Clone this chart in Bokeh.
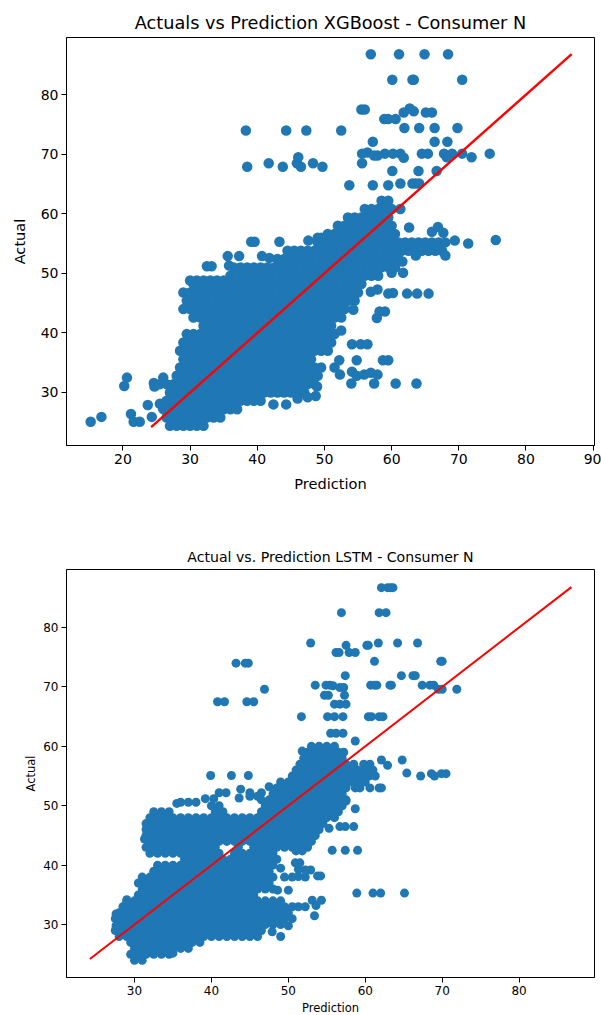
from bokeh.plotting import figure
from bokeh.layouts import column
from bokeh.models import Range1d, FixedTicker
from bokeh.embed import file_html
from bokeh.resources import INLINE

FONT = "DejaVu Sans"
BLUE = "#1f77b4"

line_ends = [24.2, 86.8]
xgb_xticks = [20, 30, 40, 50, 60, 70, 80, 90]
lstm_xticks = [30, 40, 50, 60, 70, 80]
yticks = [30, 40, 50, 60, 70, 80]

# XGBoost: predictions read along horizontal levels of the actual value
xgb_levels = [24.4, 25.8, 27.2, 28.6, 30.0, 31.4, 32.8, 34.2, 35.6, 37.0, 38.4, 39.8, 41.2, 42.6,
              44.0, 45.4, 46.8, 48.2, 49.6, 51.0, 52.4, 53.8, 55.2, 56.6, 58.0, 59.4, 60.8, 62.2]
xgb_rows = [
    [27,28,29,30,31,32],
    [26.5,27.5,28.5,29.5,30.5,31.5,32.5,33.5,34.5],
    [26,27,28,29,30,31,32,33,34,35,36,37],
    [26.5,27.5,28.5,29.5,30.5,31.5,32.5,33.5,34.5,35.5,36.5,37.5,38.5,39.5,40.5],
    [27,28,29,30,31,32,33,34,35,36,37,38,39,40,41,42,43,44,45,46,47],
    [25.5,26.5,27.5,28.5,29.5,30.5,31.5,32.5,33.5,34.5,35.5,36.5,37.5,38.5,39.5,40.5,41.5,42.5,43.5,44.5,45.5,46.5,47.5,48.5],
    [28,29,30,31,32,33,34,35,36,37,38,39,40,41,42,43,44,45,46,47,48,49],
    [28.5,29.5,30.5,31.5,32.5,33.5,34.5,35.5,36.5,37.5,38.5,39.5,40.5,41.5,42.5,43.5,44.5,45.5,46.5,47.5,48.5,49.5],
    [29,30,31,32,33,34,35,36,37,38,39,40,41,42,43,44,45,46,47,48],
    [28.5,29.5,30.5,31.5,32.5,33.5,34.5,35.5,36.5,37.5,38.5,39.5,40.5,41.5,42.5,43.5,44.5,45.5,46.5,47.5,48.5,49.5,50.5],
    [29,30,31,32,33,34,35,36,37,38,39,40,41,42,43,44,45,46,47,48,49,50,51],
    [29.5,30.5,31.5,32.5,33.5,34.5,35.5,36.5,37.5,38.5,39.5,40.5,41.5,42.5,43.5,44.5,45.5,46.5,47.5,48.5,49.5,50.5,51.5],
    [32,33,34,35,36,37,38,39,40,41,42,43,44,45,46,47,48,49,50,51],
    [30.5,31.5,32.5,33.5,34.5,35.5,36.5,37.5,38.5,39.5,40.5,41.5,42.5,43.5,44.5,45.5,46.5,47.5,48.5,49.5,50.5,51.5,52.5],
    [29,30,31,32,33,34,35,36,37,38,39,40,41,42,43,44,45,46,47,48,49,50,51,52,53],
    [29.5,30.5,31.5,32.5,33.5,34.5,35.5,36.5,37.5,38.5,39.5,40.5,41.5,42.5,43.5,44.5,45.5,46.5,47.5,48.5,49.5,50.5,51.5,52.5,53.5,54.5],
    [29,30,31,32,33,34,35,36,37,38,39,40,41,42,43,44,45,46,47,48,49,50,51,52,53,54,55],
    [30.5,31.5,32.5,33.5,34.5,35.5,36.5,37.5,38.5,39.5,40.5,41.5,42.5,43.5,44.5,45.5,46.5,47.5,48.5,49.5,50.5,51.5,52.5,53.5,54.5,55.5],
    [36,37,38,39,40,41,42,43,44,45,46,47,48,49,50,51,52,53,54,55,56,57,58],
    [36.5,37.5,38.5,39.5,40.5,41.5,42.5,43.5,44.5,45.5,46.5,47.5,48.5,49.5,50.5,51.5,52.5,53.5,54.5,55.5,56.5,57.5,58.5,59.5,60.5],
    [43,44,45,46,47,48,49,50,51,52,53,54,55,56,57,58,59,60,61],
    [44.5,45.5,46.5,47.5,48.5,49.5,50.5,51.5,52.5,53.5,54.5,55.5,56.5,57.5,58.5,59.5,60.5,61.5,62.5,63.5,64.5,65.5,66.5,67.5],
    [49,50,51,52,53,54,55,56,57,58,59,60,61,62,63,64,65,66,67,68],
    [50.5,51.5,52.5,53.5,54.5,55.5,56.5,57.5,58.5,59.5,60.5],
    [52,53,54,55,56,57,58,59,60],
    [53.5,54.5,55.5,56.5,57.5,58.5,59.5],
    [56,57,58,59,60],
    [58.5,59.5],
]
# XGBoost: the separate points around the main cloud
xgb_extra_pred = [
    56.9,61.1,64.9,68.4, 60.1,63.1,63.3,70.5, 55.5,56.0, 61.8,65.1,66.0,62.7,63.3, 58.9,59.5,60.6,
    61.9,64.1,66.4,69.8, 38.3,44.3,47.3,52.5, 57.2,66.4,68.3,
    55.6,56.4,57.4,57.9,59.0,60.2,61.3,64.5,65.4,67.8,69.0,70.5,74.6,61.8,68.2,71.9,
    55.6,41.7,48.3,45.9,46.1, 38.5,43.8,46.5,49.7, 60.1,64.0,66.7, 61.3,63.1,63.6,64.1, 53.7,57.2,59.5,
    61.3,62.6,66.9,66.0,67.7, 39.1,39.6,43.3,47.6,49.0,49.5,69.4,71.4,75.5,
    56.9,57.9,59.5,60.2,62.3,63.8,65.5, 57.8,58.2,59.0, 60.0,61.7, 61.6,63.6,68.0,
    54.3,52.5, 54.1,55.4,56.4, 52.2,54.8,51.5,52.3,54.1,54.0,57.4,60.6,63.7,54.8,55.9,56.9,57.9,58.7,59.5,
    15.2,16.8,20.6,20.2,21.2,21.6,22.5,23.7,24.3,25.5, 24.6,24.7,26.0,
    42.4,44.3,46.0,47.5,48.7,48.9, 30.0,31.0,32.0,33.0,34.0,35.0,
    35.6,37.3,40.7,35.8,32.5,33.2,41.8,
]
xgb_extra_actual = [
    86.8,86.8,86.8,86.8, 82.5,82.5,82.5,82.5, 77.5,77.5, 77.0,77.0,77.0,77.7,77.2, 75.9,75.9,75.9,
    74.4,74.4,74.4,74.4, 74.0,74.0,74.0,74.0, 72.1,72.1,72.1,
    70.1,70.3,69.8,69.8,70.1,70.1,70.1,70.1,70.1,70.1,70.1,70.1,70.1,69.4,69.5,69.5,
    68.5,68.5,68.5,68.5,69.5, 67.9,67.9,67.9,67.9, 67.2,67.2,67.2, 65.1,65.1,65.1,65.1, 64.8,64.8,64.8,
    60.8,57.7,57.8,57.0,56.8, 55.3,55.3,55.3,55.5,56.0,56.0,55.5,55.0,55.6,
    46.9,47.3,46.6,46.7,46.6,46.6,46.6, 42.5,43.6,43.6, 50.1,50.1, 52.0,53.0,53.0,
    43.9,40.4, 38.1,38.1,38.1, 35.4,35.4,34.2,33.0,33.5,31.5,31.5,31.5,31.5,32.8,33.0,33.3,33.0,35.4,35.4,
    25.1,25.9,32.5,31.1,26.4,25.1,25.1,27.9,25.9,28.1, 31.6,31.0,32.5,
    28.0,28.0,29.0,29.2,29.4,31.0, 48.8,48.8,48.8,48.8,48.8,48.8,
    52.9,52.9,52.9,51.3,51.2,51.2,52.6,
]

# LSTM: predictions read along horizontal levels of the actual value
lstm_levels = [24,25,26,27,28,29,30,31,32,33,34,35,36,37,38,39,40,41,42,43,44,45,46,47,48,49,50,51,52,53,54,55,56,57,58,59,60]
lstm_rows = [
    [30,31],
    [29.5,30.5,31.5,32.5,33.5,34.5],
    [30,31,32,33,34,35,36,37],
    [29.5,30.5,31.5,32.5,33.5,34.5,35.5,36.5,37.5,38.5],
    [28,29,30,31,32,33,34,35,36,37,38,39,40,41,42,43,44,45,46],
    [27.5,28.5,29.5,30.5,31.5,32.5,33.5,34.5,35.5,36.5,37.5,38.5,39.5,40.5,41.5,42.5,43.5,44.5,45.5,46.5],
    [28,29,30,31,32,33,34,35,36,37,38,39,40,41,42,43,44,45,46,47,48,49],
    [27.5,28.5,29.5,30.5,31.5,32.5,33.5,34.5,35.5,36.5,37.5,38.5,39.5,40.5,41.5,42.5,43.5,44.5,45.5,46.5,47.5,48.5,49.5,50.5],
    [28,29,30,31,32,33,34,35,36,37,38,39,40,41,42,43,44,45,46,47,48,49,50],
    [28.5,29.5,30.5,31.5,32.5,33.5,34.5,35.5,36.5,37.5,38.5,39.5,40.5,41.5,42.5,43.5,44.5,45.5,46.5,47.5,48.5,49.5,50.5],
    [29,30,31,32,33,34,35,36,37,38,39,40,41,42,43,44,45,46,47,48,49],
    [30.5,31.5,32.5,33.5,34.5,35.5,36.5,37.5,38.5,39.5,40.5,41.5,42.5,43.5,44.5,45.5],
    [31,32,33,34,35,36,37,38,39,40,41,42,43,44,45,46,47,48],
    [30.5,31.5,32.5,33.5,34.5,35.5,36.5,37.5,38.5,39.5,40.5,41.5,42.5,43.5,44.5,45.5,46.5,47.5],
    [31,32,33,34,35,36,37,38,39,40,41,42,43,44,45,46,47,48],
    [32.5,33.5,34.5,35.5,36.5,37.5,38.5,39.5,40.5,41.5,42.5,43.5,44.5,45.5,46.5,47.5],
    [33,34,35,36,37,38,39,40,41,42,43,44,45,46,47,48],
    [36.5,37.5,38.5,39.5,40.5,41.5,42.5,43.5,44.5,45.5,46.5,47.5,48.5],
    [32,33,34,35,36,37,38,39,40,41,43,44,45,46,47,48],
    [31.5,32.5,33.5,34.5,35.5,36.5,37.5,38.5,39.5,40.5,43.5,45.5,46.5,47.5,48.5,49.5,50.5,51.5,52.5],
    [32,33,34,35,36,37,38,39,40,41,42,43,44,45,46,47,48,49,50,51,52,53],
    [31.5,32.5,33.5,34.5,35.5,36.5,37.5,38.5,39.5,40.5,41.5,42.5,43.5,44.5,45.5,46.5,47.5,48.5,49.5,50.5,51.5,52.5,53.5],
    [32,33,34,35,36,37,38,39,40,41,42,43,44,45,46,47,48,49,50,51,52,53,54],
    [31.5,32.5,33.5,34.5,35.5,36.5,37.5,38.5,39.5,40.5,41.5,42.5,43.5,44.5,45.5,46.5,47.5,48.5,49.5,50.5,51.5,52.5,53.5,54.5],
    [32,33,34,35,36,37,38,39,40,41,42,43,44,45,46,47,48,49,50,51,52,53,54,55,56],
    [32.5,33.5,34.5,40.5,41.5,46.5,47.5,48.5,49.5,50.5,51.5,52.5,53.5,54.5,55.5,56.5],
    [40,41,47,48,49,50,51,52,53,54,55,56,57],
    [46.5,47.5,48.5,49.5,50.5,51.5,52.5,53.5,54.5,55.5,56.5,57.5],
    [48,49,50,51,52,53,54,55,56,57],
    [48.5,49.5,50.5,51.5,52.5,53.5,54.5,55.5,56.5,57.5],
    [49,50,51,52,53,54,55,56,57,58,59,60],
    [50.5,51.5,52.5,53.5,54.5,55.5,56.5,57.5,58.5,59.5,60.5],
    [51,52,53,54,55,56,57,58,59,60,61],
    [51.5,52.5,53.5,54.5,55.5,56.5,57.5,58.5],
    [52,53,54,55,56,57],
    [52.5,53.5,54.5,55.5,56.5],
    [53,54,55,56],
]
# LSTM: the separate points around the main cloud
lstm_extra_pred = [
    62.1,62.9,63.3,63.6, 56.9,61.8,62.7, 52.9,61.7,64.2,66.8, 57.5,60.2,60.4,
    56.2,56.6,57.9,58.7, 61.2,69.8,70.0, 43.2,44.4,44.8, 57.4,64.7,66.2,66.5,
    53.5,54.9,55.4,55.8,56.7,57.2,60.7,61.2,61.5,63.2,63.4,67.4,68.4,68.9,
    46.9,69.5,70.0,71.9, 54.7,55.2,57.3, 40.8,41.7,44.6,45.5, 56.0,56.7,57.5,
    51.7,55.1,56.0,57.1,60.4,60.8,61.8,62.3, 55.5,56.2,57.1, 58.7,
    59.8,60.6,62.1,62.9,64.8, 65.4,67.2,68.6,69.0,69.9,70.5, 39.9,42.6,44.8,
    58.7,59.3,60.6,61.8,62.1, 61.3,58.7,57.5,
    55.3,56.7,57.4,58.5, 55.7,57.4,59.0, 51.0,51.8, 31.3,31.5,
    58.9,61.0,62.0,65.1, 50.0,48.6, 50.5,51.3,52.2,53.8,54.2,49.5,
    49.0,51.3,52.9,52.2,50.9,51.5, 51.3,52.2,53.6,53.1,54.3,53.4,
    49.0,47.9,50.0,27.6,27.6,29.0,29.0,35.0,
    36.0,37.0,38.0,35.5,39.2,40.3,41.0,41.9,43.6,43.8,45.0,46.5,47.5,45.0,46.0,
    51.8,57.2,
]
lstm_extra_actual = [
    86.7,86.7,86.7,86.7, 82.5,82.5,82.5, 77.4,77.4,77.4,77.4, 77.0,77.0,77.0,
    75.8,75.8,75.8,75.8, 74.3,74.3,74.3, 74.0,74.0,74.0, 71.9,71.9,71.9,71.9,
    70.3,70.3,70.3,70.2,69.9,69.9,70.3,70.3,70.3,70.3,70.3,70.3,70.3,70.3,
    69.6,69.6,69.6,69.6, 68.6,68.6,68.6, 67.5,67.5,67.5,67.5, 67.1,67.1,67.1,
    65.0,65.0,65.0,65.0,65.0,65.0,65.0,65.0, 62.2,62.2,62.2, 60.9,
    57.0,57.0,57.7,56.8,57.7, 55.5,55.0,55.4,55.0,55.4,55.4, 55.1,55.1,55.1,
    53.0,53.0,53.0,53.0,53.0, 55.0,49.5,50.8,
    46.2,46.5,46.5,46.5, 42.5,42.5,42.5, 42.4,42.4, 44.4,46.0,
    35.3,35.3,35.3,35.3, 35.8,35.8, 38.0,38.1,38.0,38.2,38.2,38.0,
    39.5,39.3,39.2,39.2,40.4,40.4, 33.0,33.0,33.2,34.1,34.1,31.5,
    28.0,28.8,29.8,29.8,31.8,33.7,34.2,25.2,
    50.6,50.6,50.6,50.4,51.2,51.2,52.2,52.2,51.3,52.8,52.2,52.2,53.2,51.6,51.6,
    59.2,59.0,
]


def flatten(levels, rows, extra_pred, extra_actual):
    pred, actual = [], []
    for level, row in zip(levels, rows):
        pred += row
        actual += [level] * len(row)
    return pred + extra_pred, actual + extra_actual


def panel(title, title_size, title_standoff, tick_size, label_size, xr, yr, xticks, border_top, border_bottom,
          pred, actual, marker, line_w, label_standoff_y, label_standoff_x):
    p = figure(frame_width=528, frame_height=408, min_border_left=66, min_border_right=7,
               min_border_top=border_top, min_border_bottom=border_bottom,
               x_range=Range1d(*xr), y_range=Range1d(*yr),
               output_backend="svg", toolbar_location=None, background_fill_color="white",
               border_fill_color="white", title=title)
    p.title.align = "center"
    p.title.text_font = FONT
    p.title.text_font_size = title_size
    p.title.text_font_style = "normal"
    p.title.text_color = "#000000"
    p.title.standoff = title_standoff
    p.grid.visible = False
    p.outline_line_color = "#000000"
    p.outline_line_width = 1
    for ax, ticks, name, standoff in ((p.xaxis[0], xticks, "Prediction", label_standoff_x),
                                      (p.yaxis[0], yticks, "Actual", label_standoff_y)):
        ax.ticker = FixedTicker(ticks=ticks)
        ax.axis_label = name
        ax.axis_label_text_font = FONT
        ax.axis_label_text_font_size = label_size
        ax.axis_label_text_font_style = "normal"
        ax.axis_label_text_color = "#000000"
        ax.axis_label_standoff = standoff
        ax.major_label_text_font = FONT
        ax.major_label_text_font_size = tick_size
        ax.major_label_text_color = "#000000"
        ax.major_label_standoff = 3
        ax.major_tick_in = 0
        ax.major_tick_out = 5
        ax.minor_tick_line_color = None
        ax.axis_line_color = "#000000"
        ax.major_tick_line_color = "#000000"
    p.scatter(pred, actual, size=marker, color=BLUE, line_width=0)
    p.line(line_ends, line_ends, color="#ff0000", line_width=line_w)
    return p


xgb_pred, xgb_actual = flatten(xgb_levels, xgb_rows, xgb_extra_pred, xgb_extra_actual)
lstm_pred, lstm_actual = flatten(lstm_levels, lstm_rows, lstm_extra_pred, lstm_extra_actual)

top = panel("Actuals vs Prediction XGBoost - Consumer N", "17.7px", 10, "14px", "14.6px",
            (11.6, 90.2), (21.1, 89.6), xgb_xticks, 37, 60,
            xgb_pred, xgb_actual, 10.5, 2.4, 10, 8)
bottom = panel("Actual vs. Prediction LSTM - Consumer N", "14.1px", 9, "12px", "11.5px",
               (21.16, 89.8), (21.1, 89.76), lstm_xticks, 64, 38,
               lstm_pred, lstm_actual, 9, 2, 2, 3)

layout = column(top, bottom, spacing=0)
open("out.html", "w").write(file_html(layout, INLINE))
